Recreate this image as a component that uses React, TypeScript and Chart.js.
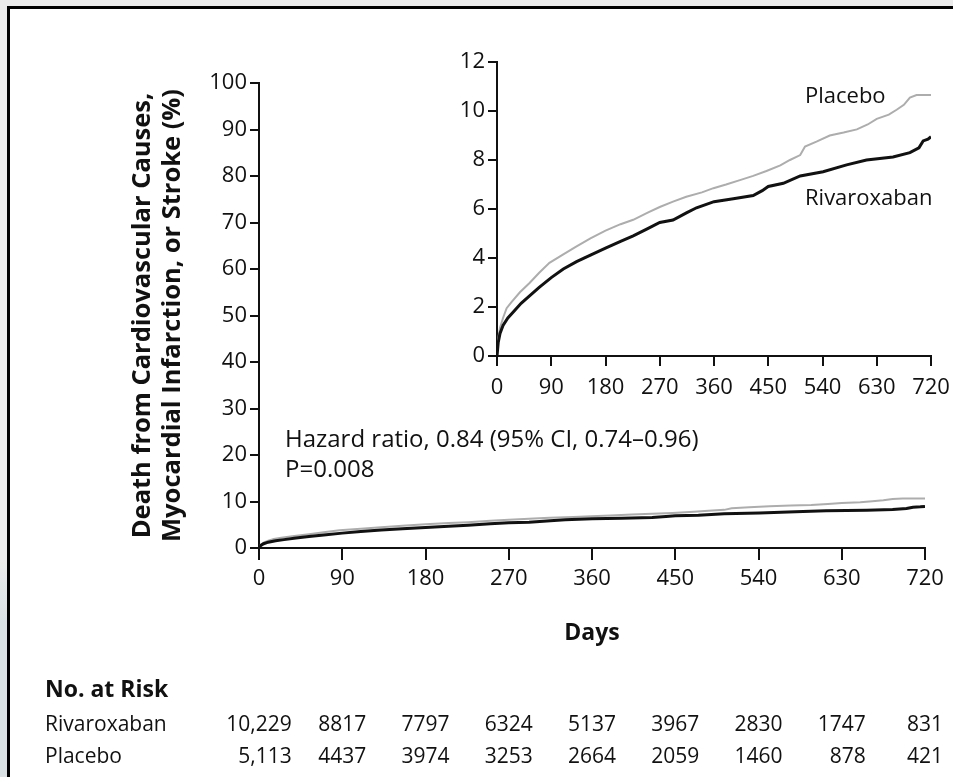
import React, { useEffect, useRef } from "react";
import { Chart, registerables } from "chart.js";

Chart.register(...registerables);

// ---------- data ----------
const rivaroxabanDays = [0, 2, 5, 10, 18, 27, 40, 54, 70, 90, 110, 132, 155, 180, 205, 226, 250, 270, 292, 315, 331, 360, 392, 425, 440, 450, 475, 503, 541, 580, 613, 657, 685, 700, 707, 715, 720];
const rivaroxabanPct = [0, 0.55, 0.92, 1.25, 1.55, 1.8, 2.15, 2.45, 2.8, 3.2, 3.55, 3.85, 4.12, 4.4, 4.68, 4.9, 5.2, 5.45, 5.55, 5.85, 6.05, 6.3, 6.42, 6.55, 6.75, 6.92, 7.05, 7.35, 7.52, 7.8, 8.0, 8.12, 8.3, 8.5, 8.78, 8.85, 8.95];

const placeboDays = [0, 2, 5, 10, 16, 24, 38, 54, 70, 87, 110, 132, 155, 180, 205, 226, 250, 270, 292, 314, 340, 359, 380, 403, 425, 447, 470, 486, 503, 511, 530, 552, 575, 597, 615, 630, 650, 663, 675, 685, 696, 720];
const placeboPct = [0, 0.7, 1.15, 1.55, 1.95, 2.2, 2.6, 2.98, 3.4, 3.8, 4.15, 4.47, 4.8, 5.12, 5.38, 5.56, 5.85, 6.08, 6.3, 6.5, 6.68, 6.85, 7.0, 7.18, 7.35, 7.55, 7.78, 8.0, 8.2, 8.55, 8.75, 9.0, 9.12, 9.25, 9.45, 9.68, 9.85, 10.05, 10.25, 10.55, 10.65, 10.65];

const riskDays = [0, 90, 180, 270, 360, 450, 540, 630, 720];
const riskRivaroxaban = ["10,229", "8817", "7797", "6324", "5137", "3967", "2830", "1747", "831"];
const riskPlacebo = ["5,113", "4437", "3974", "3253", "2664", "2059", "1460", "878", "421"];

const yTitleLines = ["Death from Cardiovascular Causes,", "Myocardial Infarction, or Stroke (%)"];
const hazardLines = ["Hazard ratio, 0.84 (95% CI, 0.74\u20130.96)", "P=0.008"];
const xTitle = "Days";
const riskTitle = "No. at Risk";
const groupNames = ["Rivaroxaban", "Placebo"];

// ---------- styles ----------
const FONT = '"Open Sans", "DejaVu Sans", sans-serif';
const INK = "#111111";
const GRAY = "#adadad";

const pts = (xs: number[], ys: number[]) => xs.map((x, i) => ({ x, y: ys[i] }));

function axisCommon(min: number, max: number, step: number, tickLength: number, pad: number) {
  return {
    type: "linear" as const,
    min,
    max,
    ticks: {
      stepSize: step,
      autoSkip: false,
      maxRotation: 0,
      color: INK,
      padding: pad,
      font: { family: FONT, size: 22 },
    },
    grid: {
      drawOnChartArea: false,
      drawTicks: true,
      tickLength,
      color: INK,
      lineWidth: 2,
    },
    border: { display: true, color: INK, width: 2 },
  };
}

function datasets(rivW: number, plaW: number) {
  return [
    {
      label: "Rivaroxaban",
      data: pts(rivaroxabanDays, rivaroxabanPct),
      borderColor: INK,
      borderWidth: rivW,
      pointRadius: 0,
      tension: 0,
      fill: false,
    },
    {
      label: "Placebo",
      data: pts(placeboDays, placeboPct),
      borderColor: GRAY,
      borderWidth: plaW,
      pointRadius: 0,
      tension: 0,
      fill: false,
    },
  ];
}

const mainTextPlugin = {
  id: "mainText",
  afterDraw(chart: any) {
    const ctx = chart.ctx as CanvasRenderingContext2D;
    const area = chart.chartArea;
    const xs = chart.scales.x;
    ctx.save();
    ctx.fillStyle = INK;

    // y-axis title (rotated)
    ctx.font = `bold 25.5px ${FONT}`;
    ctx.textAlign = "center";
    ctx.textBaseline = "alphabetic";
    ctx.save();
    ctx.translate(150, (area.top + area.bottom) / 2);
    ctx.rotate(-Math.PI / 2);
    ctx.fillText(yTitleLines[0], 0, 0);
    ctx.fillText(yTitleLines[1], 0, 30);
    ctx.restore();

    // x-axis title
    ctx.font = `bold 23px ${FONT}`;
    ctx.textAlign = "center";
    ctx.fillText(xTitle, (area.left + area.right) / 2, 640);

    // hazard ratio
    ctx.font = `24px ${FONT}`;
    ctx.textAlign = "left";
    ctx.fillText(hazardLines[0], 285, 447);
    ctx.fillText(hazardLines[1], 285, 477);

    // number at risk table
    ctx.font = `bold 23px ${FONT}`;
    ctx.fillText(riskTitle, 45, 697);
    ctx.font = `21px ${FONT}`;
    ctx.fillText(groupNames[0], 45, 731);
    ctx.fillText(groupNames[1], 45, 763);
    ctx.textAlign = "right";
    riskDays.forEach((d, i) => {
      const c = xs.getPixelForValue(d);
      const w = ctx.measureText(riskRivaroxaban[i]).width;
      const r = c + w / 2;
      ctx.fillText(riskRivaroxaban[i], r, 731);
      ctx.fillText(riskPlacebo[i], r, 763);
    });
    ctx.restore();
  },
};

const insetTextPlugin = {
  id: "insetText",
  afterDraw(chart: any) {
    const ctx = chart.ctx as CanvasRenderingContext2D;
    ctx.save();
    ctx.fillStyle = INK;
    ctx.font = `22px ${FONT}`;
    ctx.textAlign = "left";
    ctx.textBaseline = "alphabetic";
    ctx.fillText(groupNames[1], 805, 103);
    ctx.fillText(groupNames[0], 805, 205);
    ctx.restore();
  },
};

export default function App() {
  const mainRef = useRef<HTMLCanvasElement>(null);
  const insetRef = useRef<HTMLCanvasElement>(null);

  useEffect(() => {
    const mainX: any = axisCommon(0, 720, 90, 12, 6);
    mainX.afterFit = (s: any) => {
      s.height = 50;
      s.paddingLeft = 0;
      s.paddingRight = 0;
    };
    const mainY: any = axisCommon(0, 100, 10, 9, 3);
    mainY.afterFit = (s: any) => {
      s.width = 59;
      s.paddingTop = 0;
      s.paddingBottom = 0;
    };

    const main = new Chart(mainRef.current!, {
      type: "line",
      data: { datasets: datasets(3, 2) as any },
      options: {
        responsive: false,
        animation: false,
        events: [],
        layout: { padding: { left: 200, right: 28, top: 83, bottom: 179 }, autoPadding: false } as any,
        plugins: { legend: { display: false }, tooltip: { enabled: false } },
        scales: { x: mainX, y: mainY },
      },
      plugins: [mainTextPlugin],
    });

    const insX: any = axisCommon(0, 720, 90, 10, 9);
    insX.afterFit = (s: any) => {
      s.height = 45;
      s.paddingLeft = 0;
      s.paddingRight = 0;
    };
    const insY: any = axisCommon(0, 12, 2, 9, 3);
    insY.afterFit = (s: any) => {
      s.width = 50;
      s.paddingTop = 0;
      s.paddingBottom = 0;
    };

    const inset = new Chart(insetRef.current!, {
      type: "line",
      data: { datasets: datasets(3, 2) as any },
      options: {
        responsive: false,
        animation: false,
        events: [],
        layout: { padding: { left: 447, right: 22, top: 62, bottom: 376 }, autoPadding: false } as any,
        plugins: { legend: { display: false }, tooltip: { enabled: false } },
        scales: { x: insX, y: insY },
      },
      plugins: [insetTextPlugin],
    });

    return () => {
      main.destroy();
      inset.destroy();
    };
  }, []);

  return (
    <div
      style={{
        position: "fixed",
        left: 0,
        top: 0,
        width: 953,
        height: 777,
        overflow: "hidden",
        background: "linear-gradient(to bottom, #ebebeb 0%, #ebebeb 72%, #dae1e4 80%, #dae1e4 100%)",
      }}
    >
      <div
        style={{
          position: "absolute",
          left: 7,
          top: 6,
          right: 0,
          bottom: 0,
          background: "#ffffff",
          borderLeft: "3px solid #000",
          borderTop: "3px solid #000",
        }}
      />
      <canvas ref={mainRef} width={953} height={777} style={{ position: "absolute", left: 0, top: 0 }} />
      <canvas ref={insetRef} width={953} height={777} style={{ position: "absolute", left: 0, top: 0 }} />
    </div>
  );
}
